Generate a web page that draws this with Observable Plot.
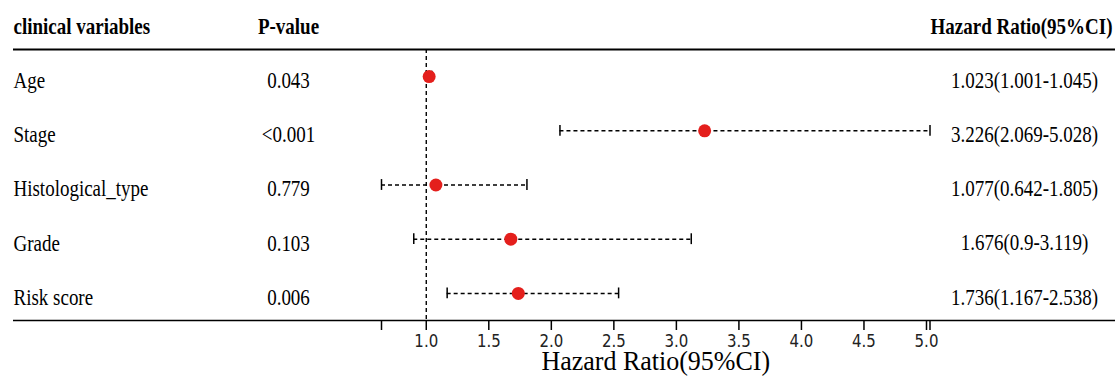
<!DOCTYPE html>
<html><head><meta charset="utf-8">
<script src="https://cdn.jsdelivr.net/npm/d3@7"></script>
<script src="https://cdn.jsdelivr.net/npm/@observablehq/plot@0.6"></script>
<style>body{margin:0;background:#fff}</style>
</head><body><div id="chart"></div>
<script>
const variables = ["Age", "Stage", "Histological_type", "Grade", "Risk score"];
const pValues = ["0.043", "<0.001", "0.779", "0.103", "0.006"];
const hr = [1.023, 3.226, 1.077, 1.676, 1.736];
const lower = [1.001, 2.069, 0.642, 0.9, 1.167];
const upper = [1.045, 5.028, 1.805, 3.119, 2.538];
const hrLabels = ["1.023(1.001-1.045)", "3.226(2.069-5.028)", "1.077(0.642-1.805)", "1.676(0.9-3.119)", "1.736(1.167-2.538)"];
const headers = ["clinical variables", "P-value", "Hazard Ratio(95%CI)"];
const tickValues = [1.0, 1.5, 2.0, 2.5, 3.0, 3.5, 4.0, 4.5, 5.0];
const xTitle = "Hazard Ratio(95%CI)";

const rows = variables.map((v, i) => ({
  row: i + 1, variable: v, p: pValues[i], hr: hr[i], lo: lower[i], hi: upper[i], label: hrLabels[i]
}));
const xMin = d3.min(lower), xMax = d3.max(upper);
const axisTicks = [xMin, ...tickValues, xMax];
const serif = "'Liberation Serif', 'Times New Roman', serif";

const chart = Plot.plot({
  width: 1118,
  height: 376,
  marginTop: 49,
  marginBottom: 56,
  marginLeft: 0,
  marginRight: 0,
  style: {background: "#fff", color: "#000"},
  x: {domain: [xMin, xMax], range: [381, 929.5]},
  y: {domain: [0.5, rows.length + 0.5], reverse: true, axis: null},
  marks: [
    // table borders
    Plot.ruleY([0.5], {stroke: "#000", strokeWidth: 2.2, insetLeft: 13, insetRight: 3}),
    Plot.ruleY([rows.length + 0.5], {stroke: "#000", strokeWidth: 1.6, insetLeft: 13, insetRight: 3}),
    // reference line at HR = 1
    Plot.ruleX([1], {stroke: "#000", strokeWidth: 1.4, strokeDasharray: "4,3"}),
    // CI whiskers
    Plot.ruleY(rows, {y: "row", x1: "lo", x2: "hi", stroke: "#000", strokeWidth: 1.5, strokeDasharray: "4,3"}),
    Plot.ruleX(rows, {x: "lo", y1: d => d.row - 0.1, y2: d => d.row + 0.1, stroke: "#000", strokeWidth: 1.5}),
    Plot.ruleX(rows, {x: "hi", y1: d => d.row - 0.1, y2: d => d.row + 0.1, stroke: "#000", strokeWidth: 1.5}),
    // points
    Plot.dot(rows, {x: "hr", y: "row", r: 6.5, fill: "#e41f1c", stroke: "none"}),
    // text columns
    Plot.text(rows, {y: "row", text: "variable", frameAnchor: "left", dx: 13, textAnchor: "start", fontFamily: serif, fontSize: 19, dy: 4, fill: "#000"}),
    Plot.text(rows, {y: "row", text: "p", frameAnchor: "left", dx: 288, textAnchor: "middle", fontFamily: serif, fontSize: 19, dy: 4, fill: "#000"}),
    Plot.text(rows, {y: "row", text: "label", frameAnchor: "right", dx: -94, textAnchor: "middle", fontFamily: serif, fontSize: 19, dy: 4, fill: "#000"}),
    // headers
    Plot.text([headers[0]], {frameAnchor: "top-left", lineAnchor: "middle", dx: 13, dy: -23, textAnchor: "start", fontFamily: serif, fontSize: 19, fontWeight: "bold", fill: "#000"}),
    Plot.text([headers[1]], {frameAnchor: "top-left", lineAnchor: "middle", dx: 288, dy: -23, textAnchor: "middle", fontFamily: serif, fontSize: 19, fontWeight: "bold", fill: "#000"}),
    Plot.text([headers[2]], {frameAnchor: "top-right", lineAnchor: "middle", dx: -6, dy: -23, textAnchor: "end", fontFamily: serif, fontSize: 19, fontWeight: "bold", fill: "#000"}),
    // x axis
    Plot.axisX({
      ticks: axisTicks,
      tickFormat: d => tickValues.includes(d) ? d.toFixed(1) : "",
      tickSize: 10, tickPadding: 5, label: null,
      fontSize: 15, fontFamily: "'DejaVu Sans', sans-serif", stroke: "#000", strokeWidth: 1.5, fill: "#222"
    }),
    Plot.text([xTitle], {x: [(xMin + xMax) / 2], frameAnchor: "bottom", lineAnchor: "middle", dy: 40, fontFamily: serif, fontSize: 26, fill: "#000"})
  ]
});
document.getElementById("chart").append(chart);

// the reference's lettering is slightly taller than wide: stretch each text vertically about its own centre
Array.from(chart.querySelectorAll("text")).forEach(t => {
  if (!t.textContent) return;
  const fs = parseFloat(getComputedStyle(t).fontSize);
  const k = fs >= 24 ? 1.08 : 1.2;
  const r = t.getBoundingClientRect();
  const parent = t.parentNode;
  const M = parent.getScreenCTM();
  const cy = ((r.top + r.bottom) / 2 - M.f) / M.d;
  const g = document.createElementNS("http://www.w3.org/2000/svg", "g");
  g.setAttribute("transform", `translate(0,${cy * (1 - k)}) scale(1,${k})`);
  parent.insertBefore(g, t);
  g.appendChild(t);
});
</script>
</body></html>
